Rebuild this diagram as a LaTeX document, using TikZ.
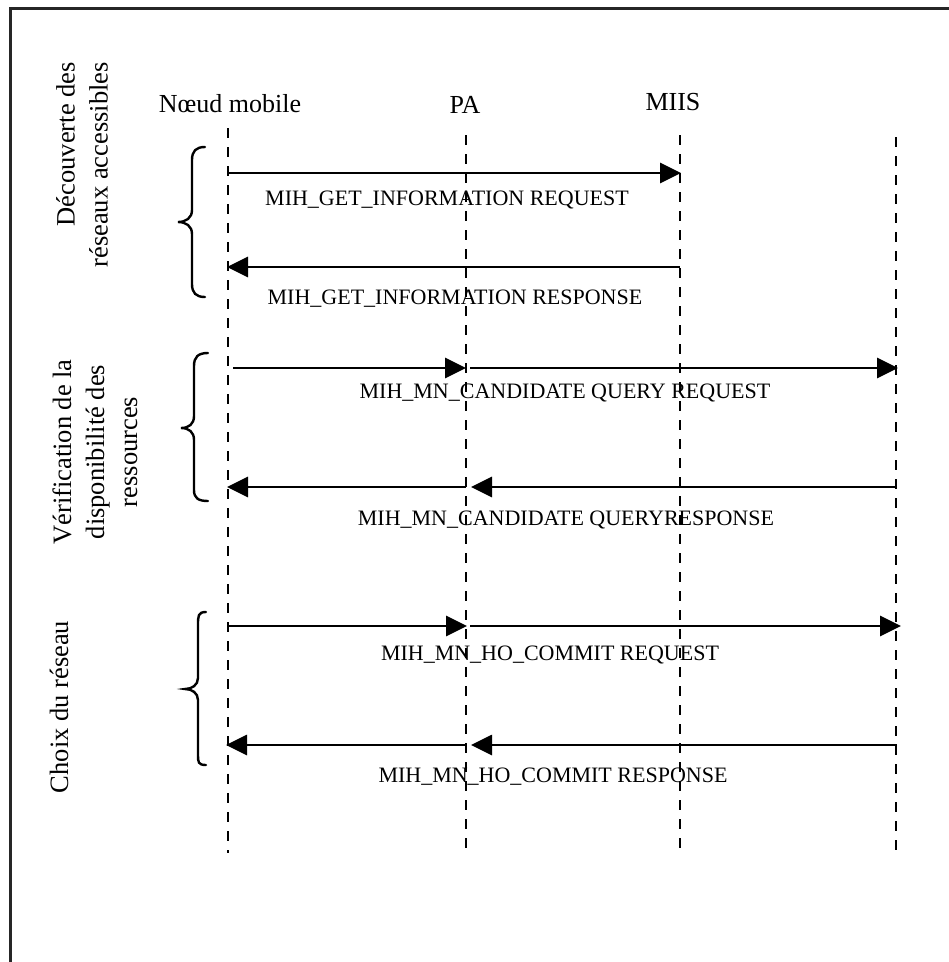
\documentclass[tikz,border=0pt]{standalone}
\usepackage{fontspec}
\setmainfont{Liberation Serif}
\usetikzlibrary{arrows.meta}
\begin{document}
\begin{tikzpicture}[x=1pt,y=-1pt,
  frame/.style={line width=3pt,draw=black!85},
  lifeline/.style={line width=2.9pt,dash pattern=on 10pt off 9pt},
  msg/.style={line width=2.8pt,-{Triangle[length=21pt,width=20pt]}},
  msglabel/.style={font=\fontsize{22}{24}\selectfont,anchor=base,inner sep=0pt},
  actor/.style={font=\fontsize{26}{30}\selectfont,anchor=base,inner sep=0pt},
  phase/.style={font=\fontsize{26.5}{33}\selectfont,rotate=90,inner sep=0pt},
  bracestyle/.style={line width=2.4pt,line cap=round}]
\useasboundingbox (0,0) rectangle (949,962);
% frame
\draw[frame] (10,962) -- (10,8) -- (949,8);
% actors
\node[actor] (mn) at (230,112) {Nœud mobile};
\node[actor] (pa) at (465,113) {PA};
\node[actor] (miis) at (673,110) {MIIS};
% lifelines
\coordinate (mnT) at (228,128); \coordinate (mnB) at (228,853);
\coordinate (paT) at (466,135); \coordinate (paB) at (466,853);
\coordinate (miT) at (680,135); \coordinate (miB) at (680,853);
\coordinate (ptT) at (896,137); \coordinate (ptB) at (896,853);
\draw[lifeline] (mnT) -- (mnB);
\draw[lifeline] (paT) -- (paB);
\draw[lifeline] (miT) -- (miB);
\draw[lifeline] (ptT) -- (ptB);
% block 1
\coordinate (a1s) at (228,173); \coordinate (a1e) at (681,173);
\coordinate (a2s) at (680,267); \coordinate (a2e) at (227,267);
\draw[msg] (a1s) -- (a1e);
\draw[msg] (a2s) -- (a2e);
\node[msglabel] (l1) at (447,205) {MIH\_GET\_INFORMATION REQUEST};
\node[msglabel] (l2) at (455,304) {MIH\_GET\_INFORMATION RESPONSE};
% block 2
\coordinate (b1s) at (233,368); \coordinate (b1e) at (466,368);
\coordinate (b2s) at (470,368); \coordinate (b2e) at (898,368);
\coordinate (b3s) at (897,487); \coordinate (b3e) at (471,487);
\coordinate (b4s) at (466,487); \coordinate (b4e) at (227,487);
\draw[msg] (b1s) -- (b1e);
\draw[msg] (b2s) -- (b2e);
\draw[msg] (b3s) -- (b3e);
\draw[msg] (b4s) -- (b4e);
\node[msglabel] (l3) at (565,398) {MIH\_MN\_CANDIDATE QUERY REQUEST};
\node[msglabel] (l4) at (566,525) {MIH\_MN\_CANDIDATE QUERYRESPONSE};
% block 3
\coordinate (c1s) at (229,626); \coordinate (c1e) at (467,626);
\coordinate (c2s) at (470,626); \coordinate (c2e) at (901,626);
\coordinate (c3s) at (897,745); \coordinate (c3e) at (471,745);
\coordinate (c4s) at (466,745); \coordinate (c4e) at (226,745);
\draw[msg] (c1s) -- (c1e);
\draw[msg] (c2s) -- (c2e);
\draw[msg] (c3s) -- (c3e);
\draw[msg] (c4s) -- (c4e);
\node[msglabel] (l5) at (550,660) {MIH\_MN\_HO\_COMMIT REQUEST};
\node[msglabel] (l6) at (553,782) {MIH\_MN\_HO\_COMMIT RESPONSE};
% braces
\draw[bracestyle] (205,147) .. controls (196,147) and (192,151) .. (192,160) -- (192,210) .. controls (192,218) and (186,222) .. (178,222) .. controls (186,222) and (192,226) .. (192,234) -- (192,284) .. controls (192,293) and (196,297) .. (205,297);
\draw[bracestyle] (208,353) .. controls (198,353) and (194,357) .. (194,366) -- (194,416) .. controls (194,424) and (189,428) .. (181,428) .. controls (189,428) and (194,432) .. (194,440) -- (194,490) .. controls (194,498) and (198,501) .. (208,501);
\draw[bracestyle] (206,612) .. controls (198,612) and (198,616) .. (198,625) -- (198,678) .. controls (198,685) and (192,689) .. (185,689) .. controls (192,689) and (198,693) .. (198,700) -- (198,755) .. controls (198,762) and (198,765) .. (206,765);
% phase labels
\node[phase,align=right,anchor=east] (p1) at (82,62) {Découverte des\\réseaux accessibles};
\node[phase,align=center] (p2) at (95,452) {Vérification de la\\disponibilité des\\ressources};
\node[phase] (p3) at (59,707) {Choix du réseau};
\end{tikzpicture}
\end{document}
